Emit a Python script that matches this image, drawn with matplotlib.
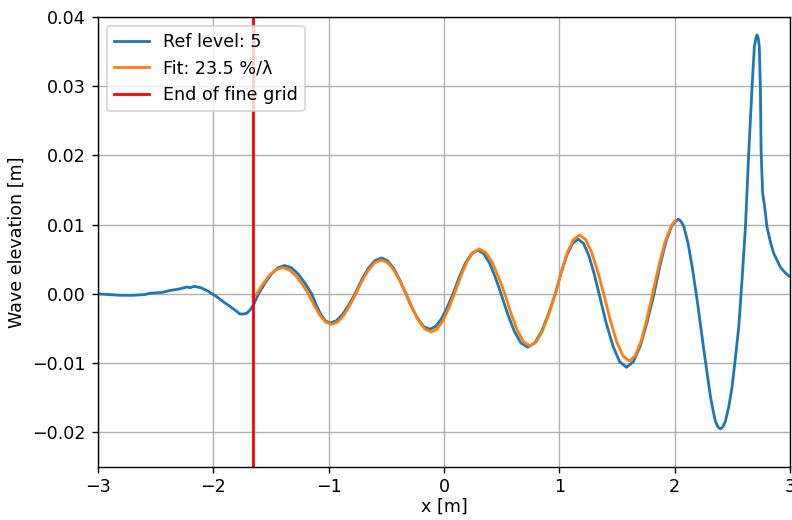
import matplotlib
matplotlib.use("Agg")
import matplotlib.pyplot as plt

# Reference simulation (blue)
ref_x = [-3.0, -2.9, -2.8, -2.7, -2.6, -2.547, -2.45, -2.374, -2.3, -2.23, -2.2, -2.166,
         -2.11, -2.057, -1.971, -1.9, -1.856, -1.8, -1.77, -1.74, -1.71, -1.68, -1.653, -1.63,
         -1.608, -1.552, -1.496, -1.439, -1.383, -1.324, -1.265, -1.206, -1.147,
         -1.107, -1.068, -1.028, -0.988, -0.934, -0.88, -0.826, -0.772,
         -0.715, -0.657, -0.6, -0.542, -0.489, -0.436, -0.383, -0.33,
         -0.279, -0.227, -0.176, -0.124, -0.074, -0.023, 0.028, 0.078,
         0.132, 0.186, 0.24, 0.294, 0.344, 0.395, 0.445, 0.495,
         0.553, 0.611, 0.668, 0.726, 0.786, 0.846, 0.905, 0.965,
         1.015, 1.065, 1.114, 1.164, 1.209, 1.255, 1.3, 1.345,
         1.404, 1.464, 1.523, 1.582, 1.642, 1.702, 1.761, 1.821,
         1.873, 1.926, 1.978, 2.03, 2.055, 2.08, 2.115, 2.152, 2.195, 2.253, 2.31, 2.335,
         2.353, 2.375, 2.397, 2.418, 2.44, 2.47, 2.498, 2.527, 2.556, 2.584, 2.613, 2.642,
         2.671, 2.691, 2.705, 2.714, 2.724, 2.734, 2.743, 2.75, 2.763, 2.777, 2.8, 2.83,
         2.858, 2.915, 2.95, 2.982, 3.0]
ref_y = [0.0000, -0.0001, -0.0002, -0.0002, -0.0001, 0.0001, 0.0002, 0.0005, 0.0007, 0.0010,
         0.0009, 0.0011, 0.0009, 0.0005, -0.0004, -0.0013, -0.0018, -0.0025, -0.0029, -0.0029,
         -0.0028, -0.0023, -0.0016, -0.0008,
         0.0, 0.00157, 0.0029, 0.00379, 0.0041, 0.00379, 0.0029, 0.00157, 0.0,
         -0.00161, -0.00297, -0.00388, -0.0042, -0.00388, -0.00297, -0.00161, 0.0,
         0.00199, 0.00368, 0.0048, 0.0052, 0.0048, 0.00368, 0.00199, 0.0,
         -0.00195, -0.00361, -0.00471, -0.0051, -0.00471, -0.00361, -0.00195, 0.0,
         0.00241, 0.00445, 0.00582, 0.0063, 0.00582, 0.00445, 0.00241, 0.0,
         -0.00295, -0.00544, -0.00711, -0.0077, -0.00711, -0.00544, -0.00295, 0.0,
         0.00303, 0.00559, 0.0073, 0.0079, 0.0073, 0.00559, 0.00303, 0.0,
         -0.00406, -0.0075, -0.00979, -0.0106, -0.00979, -0.0075, -0.00406, 0.0,
         0.00414, 0.00764, 0.00998, 0.0108, 0.0105, 0.0097, 0.0074, 0.0039, -0.0009, -0.0081,
         -0.0148, -0.0170, -0.0184, -0.0192, -0.0195, -0.0192, -0.0184, -0.0162, -0.0134,
         -0.0092, -0.0047, 0.0020, 0.0095, 0.0203, 0.0299, 0.0357, 0.0370, 0.0374, 0.0370,
         0.0357, 0.0299, 0.0203, 0.0145, 0.0130, 0.0097, 0.0075, 0.0059, 0.0039, 0.0032,
         0.0027, 0.0025]

# Exponential fit (orange)
fit_x = [-1.655, -1.625, -1.569, -1.513, -1.456, -1.40, -1.344, -1.288, -1.231, -1.175,
         -1.125, -1.075, -1.025, -0.975, -0.923, -0.87, -0.818, -0.765,
         -0.71, -0.654, -0.599, -0.543, -0.489, -0.436, -0.382, -0.328,
         -0.274, -0.219, -0.165, -0.11, -0.06, -0.01, 0.04, 0.09,
         0.144, 0.198, 0.251, 0.305, 0.361, 0.417, 0.472, 0.528,
         0.582, 0.637, 0.691, 0.745, 0.8, 0.855, 0.91, 0.965,
         1.018, 1.07, 1.123, 1.175, 1.228, 1.28, 1.333, 1.385,
         1.441, 1.496, 1.552, 1.607, 1.657, 1.708, 1.758, 1.808,
         1.864, 1.919, 1.975, 2.008]
fit_y = [-0.0004, 0.0, 0.00146, 0.00269, 0.00351, 0.0038, 0.00351, 0.00269, 0.00146, 0.0,
         -0.00169, -0.00311, -0.00407, -0.0044, -0.00407, -0.00311, -0.00169, 0.0,
         0.00188, 0.00346, 0.00453, 0.0049, 0.00453, 0.00346, 0.00188, 0.0,
         -0.00211, -0.00389, -0.00508, -0.0055, -0.00508, -0.00389, -0.00211, 0.0,
         0.00249, 0.0046, 0.006, 0.0065, 0.006, 0.0046, 0.00249, 0.0,
         -0.00287, -0.0053, -0.00693, -0.0075, -0.00693, -0.0053, -0.00287, 0.0,
         0.00326, 0.00601, 0.00785, 0.0085, 0.00785, 0.00601, 0.00326, 0.0,
         -0.00372, -0.00686, -0.00896, -0.0097, -0.00896, -0.00686, -0.00372, 0.0,
         0.00414, 0.00764, 0.00998, 0.0106]

fine_grid_end = -1.655
x_ticks = [-3, -2, -1, 0, 1, 2, 3]
y_ticks = [-0.02, -0.01, 0.00, 0.01, 0.02, 0.03, 0.04]

DPI = 126
fig, ax = plt.subplots(figsize=(792 / DPI, 520 / DPI), dpi=DPI)
fig.subplots_adjust(left=98 / 792, right=790 / 792, top=1 - 17 / 520, bottom=1 - 467 / 520)

ax.plot(ref_x, ref_y, color="#1f77b4", lw=1.6, label="Ref level: 5")
ax.plot(fit_x, fit_y, color="#ff7f0e", lw=1.6, label="Fit: 23.5 %/λ")
ax.axvline(fine_grid_end, color="red", lw=1.6, label="End of fine grid")

ax.set_xlim(-3, 3)
ax.set_ylim(-0.025, 0.04)
ax.set_xticks(x_ticks)
ax.set_yticks(y_ticks)
ax.tick_params(axis="x", pad=2.5)
ax.grid(True, color="#b0b0b0", lw=0.8)
ax.set_xlabel("x [m]", labelpad=1.5)
ax.set_ylabel("Wave elevation [m]")
ax.legend(loc="upper left")

fig.savefig("out.png", dpi=DPI)
